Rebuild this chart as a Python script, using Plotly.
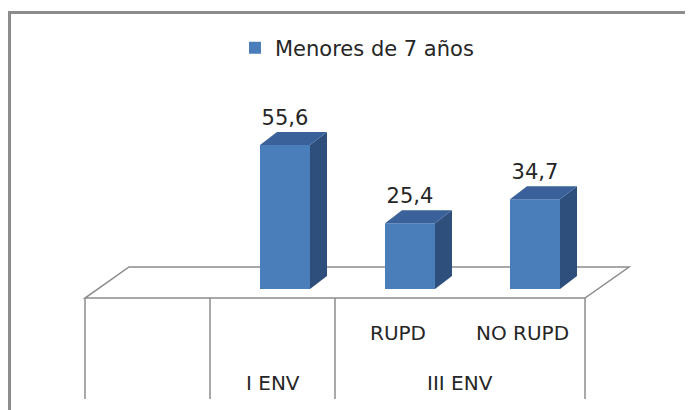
import plotly.graph_objects as go

# ---- data ----
inner_labels = ["", "", "RUPD", "NO RUPD"]
outer_labels = ["", "I ENV", "III ENV", "III ENV"]
values = [None, 55.6, 25.4, 34.7]
series_name = "Menores de 7 años"

# ---- style constants ----
FRONT = "#4A7EBB"
TOP = "#3A6199"
SIDE = "#2E4F7C"
GRID = "#8c8c8c"
TXT = "#262626"
FONT = "DejaVu Sans"

W, H = 685, 402     # page body has an 8px margin
OFF = 8

BAR_OFF = 0.1      # bar shift (perspective) in category units
BAR_W = 0.4
DX = 0.136         # 3D depth in x (category units)
DY = 5.0           # 3D depth in y (value units)
FLOOR_FRONT = -3.5
FLOOR_DX = 0.352
FLOOR_DY = 12.0
TABLE_BOTTOM = -42.5
INNER_Y = -17.0
OUTER_Y = -36.3
LABEL_GAP = 9.7

n = len(values)
idx = list(range(n))

fig = go.Figure()

# front faces (library bars)
fig.add_trace(go.Bar(
    x=[i + BAR_OFF for i in idx], y=values, width=BAR_W,
    marker=dict(color=FRONT, line=dict(width=0)),
    name=series_name, showlegend=True, hoverinfo="skip",
))

# 3D side and top faces
for i, v in zip(idx, values):
    if v is None:
        continue
    xl = i + BAR_OFF - BAR_W / 2
    xr = i + BAR_OFF + BAR_W / 2
    fig.add_trace(go.Scatter(
        x=[xr, xr + DX, xr + DX, xr, xr], y=[0, DY, v + DY, v, 0],
        fill="toself", fillcolor=SIDE, mode="lines", line=dict(width=0, color=SIDE),
        showlegend=False, hoverinfo="skip"))
    fig.add_trace(go.Scatter(
        x=[xl, xr, xr + DX, xl + DX, xl], y=[v, v, v + DY, v + DY, v],
        fill="toself", fillcolor=TOP, mode="lines", line=dict(width=0, color=TOP),
        showlegend=False, hoverinfo="skip"))

# data labels
lab_x = [i + BAR_OFF for i, v in zip(idx, values) if v is not None]
lab_y = [v + LABEL_GAP for v in values if v is not None]
lab_t = [f"{v:.1f}".replace(".", ",") for v in values if v is not None]
fig.add_trace(go.Scatter(
    x=lab_x, y=lab_y, text=lab_t, mode="text", textposition="middle center",
    textfont=dict(size=21, color=TXT, family=FONT), showlegend=False, hoverinfo="skip"))

shapes = []
# floor
x0, x1 = -0.5, n - 0.5
shapes.append(dict(
    type="path", layer="below", xref="x", yref="y",
    path=f"M{x0},{FLOOR_FRONT} L{x1},{FLOOR_FRONT} L{x1 + FLOOR_DX},{FLOOR_FRONT + FLOOR_DY} "
         f"L{x0 + FLOOR_DX},{FLOOR_FRONT + FLOOR_DY} Z",
    line=dict(color=GRID, width=1.5), fillcolor="white"))

# category table dividers (between outer groups)
bounds = [x0]
for i in range(1, n):
    if outer_labels[i] != outer_labels[i - 1] or outer_labels[i] == "":
        bounds.append(i - 0.5)
bounds.append(x1)
for b in bounds:
    shapes.append(dict(type="line", xref="x", yref="y", x0=b, x1=b,
                       y0=FLOOR_FRONT, y1=TABLE_BOTTOM, line=dict(color=GRID, width=1.5)))

# outer frame
shapes.append(dict(type="rect", xref="paper", yref="paper",
                   x0=(9.5 - OFF) / W, x1=1.05, y0=-0.05, y1=1 - (12.5 - OFF) / H,
                   line=dict(color=GRID, width=3)))

annotations = []
for i, t in enumerate(inner_labels):
    if t:
        annotations.append(dict(x=i, y=INNER_Y, xref="x", yref="y", text=t, showarrow=False,
                                font=dict(size=20, color=TXT, family=FONT)))
# outer groups
i = 0
while i < n:
    j = i
    while j + 1 < n and outer_labels[j + 1] == outer_labels[i] and outer_labels[i] != "":
        j += 1
    if outer_labels[i]:
        annotations.append(dict(x=(i + j) / 2, y=OUTER_Y, xref="x", yref="y",
                                text=outer_labels[i], showarrow=False,
                                font=dict(size=20, color=TXT, family=FONT)))
    i = j + 1

fig.update_layout(
    width=W, height=H,
    margin=dict(l=0, r=0, t=0, b=0),
    paper_bgcolor="white", plot_bgcolor="white",
    xaxis=dict(range=[(OFF - 85) / 125 - 0.5, (693 - 85) / 125 - 0.5], visible=False, fixedrange=True),
    yaxis=dict(range=[(289 - 410) / 2.59, (289 - OFF) / 2.59], visible=False, fixedrange=True),
    legend=dict(orientation="h", x=(357 - OFF) / W, xanchor="center", y=1 - (48 - OFF) / H,
                yanchor="middle",
                font=dict(size=21, color=TXT, family=FONT), bgcolor="rgba(0,0,0,0)"),
    shapes=shapes, annotations=annotations,
    showlegend=True,
)

fig.write_html("out.html")
